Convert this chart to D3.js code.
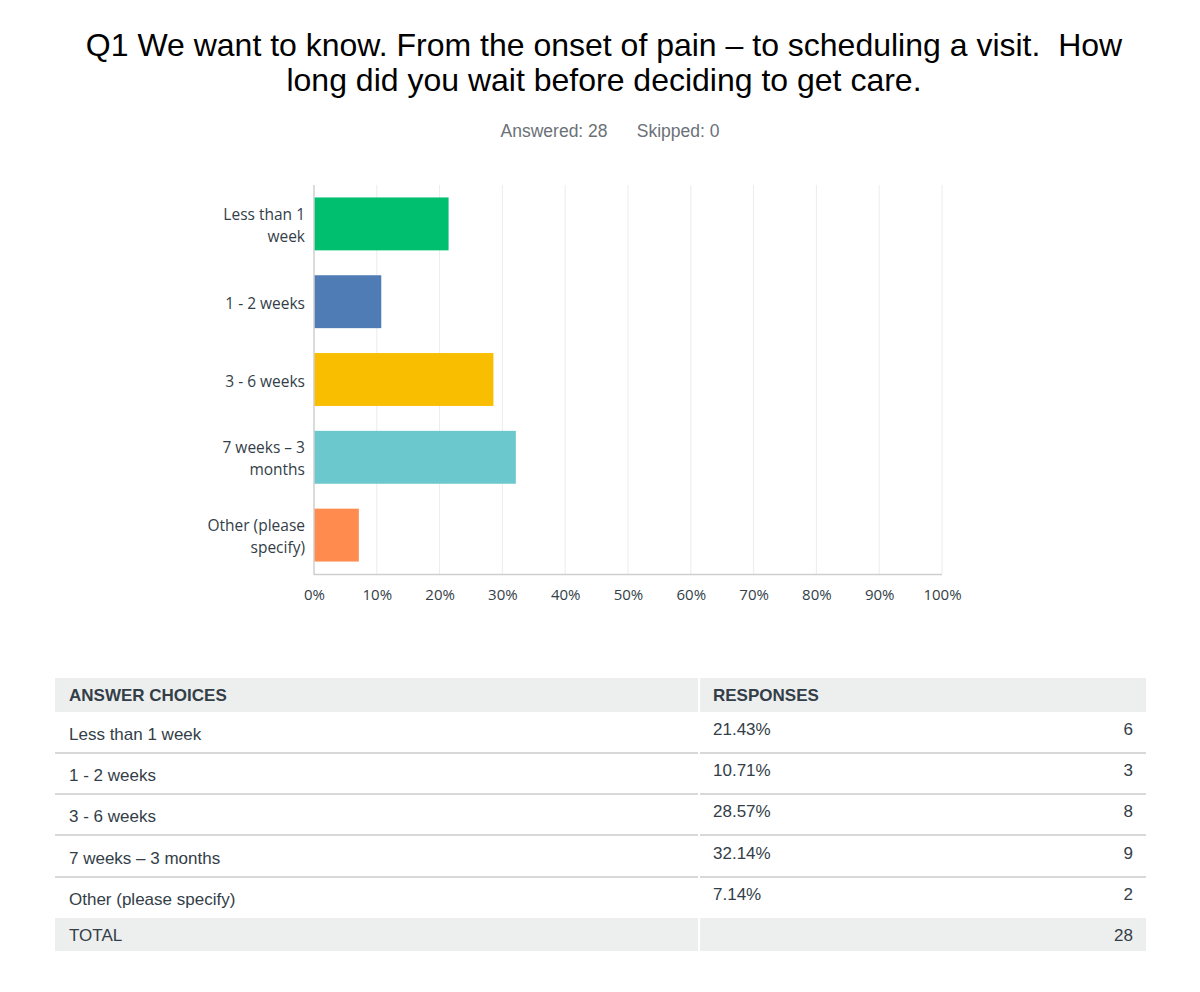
<!DOCTYPE html>
<html>
<head>
<meta charset="utf-8">
<script src="https://cdn.jsdelivr.net/npm/d3@7"></script>
<style>
  body { margin: 0; background: #fff; }
  svg text { white-space: pre; }
</style>
</head>
<body>
<div id="chart"></div>
<script>
var categories = ["Less than 1 week", "1 - 2 weeks", "3 - 6 weeks", "7 weeks \u2013 3 months", "Other (please specify)"];
var axisLabels = [["Less than 1", "week"], ["1 - 2 weeks"], ["3 - 6 weeks"], ["7 weeks \u2013 3", "months"], ["Other (please", "specify)"]];
var percents = [21.43, 10.71, 28.57, 32.14, 7.14];
var counts = [6, 3, 8, 9, 2];
var total = 28;
var skipped = 0;
var colors = ["#00bf6f", "#507cb6", "#f9be00", "#6bc8cd", "#ff8b4f"];
var tickValues = [0, 10, 20, 30, 40, 50, 60, 70, 80, 90, 100];

var width = 1200, height = 992;

var svg = d3.select('#chart')
  .append('svg')
  .attr('width', width)
  .attr('height', height);

// title
var title = svg.append('text')
  .attr('text-anchor', 'middle')
  .attr('font-family', 'Liberation Sans, Arial, sans-serif')
  .attr('font-size', 32)
  .attr('fill', '#000');
title.append('tspan').attr('x', 604).attr('y', 56)
  .text("Q1 We want to know. From the onset of pain \u2013 to scheduling a visit.  How");
title.append('tspan').attr('x', 604).attr('y', 91)
  .text("long did you wait before deciding to get care.");

svg.append('text')
  .attr('x', 610).attr('y', 137)
  .attr('text-anchor', 'middle')
  .attr('font-family', 'Liberation Sans, Arial, sans-serif')
  .attr('font-size', 17.5)
  .attr('fill', '#6b7178')
  .text("Answered: " + total + "      Skipped: " + skipped);

// chart
var x = d3.scaleLinear().domain([0, 100]).range([314, 942]);
var y = d3.scaleBand().domain(categories).range([185, 574]).paddingInner(0.32).paddingOuter(0.16);

var g = svg.append('g');

g.selectAll('line.grid')
  .data(tickValues.slice(1))
  .enter()
  .append('line')
  .attr('class', 'grid')
  .attr('x1', function(d) { return x(d); })
  .attr('x2', function(d) { return x(d); })
  .attr('y1', 185)
  .attr('y2', 574)
  .attr('stroke', '#ececec')
  .attr('stroke-width', 1);

g.selectAll('rect.bar')
  .data(categories)
  .enter()
  .append('rect')
  .attr('class', 'bar')
  .attr('x', x(0))
  .attr('y', function(d) { return y(d); })
  .attr('width', function(d, i) { return x(percents[i]) - x(0); })
  .attr('height', y.bandwidth())
  .attr('fill', function(d, i) { return colors[i]; });

// axis lines
g.append('line').attr('x1', 314).attr('x2', 314).attr('y1', 185).attr('y2', 575)
  .attr('stroke', '#cfcfcf').attr('stroke-width', 1.5);
g.append('line').attr('x1', 314).attr('x2', 942).attr('y1', 574.5).attr('y2', 574.5)
  .attr('stroke', '#cfcfcf').attr('stroke-width', 1.5);

var xAxis = d3.axisBottom(x)
  .tickValues(tickValues)
  .tickSize(0)
  .tickPadding(15)
  .tickFormat(function(d) { return d + "%"; });

var xa = svg.append('g')
  .attr('transform', 'translate(0,574)')
  .call(xAxis);
xa.select('.domain').remove();
xa.selectAll('text')
  .attr('font-family', 'Open Sans, sans-serif')
  .attr('font-size', 15)
  .attr('fill', '#333e48');

var labels = svg.append('g')
  .attr('font-family', 'Open Sans, sans-serif')
  .attr('font-size', 15.5)
  .attr('fill', '#333e48')
  .attr('text-anchor', 'end');

labels.selectAll('text')
  .data(categories)
  .enter()
  .append('text')
  .each(function(d, i) {
    var lines = axisLabels[i];
    var cy = y(d) + y.bandwidth() / 2;
    var t = d3.select(this);
    lines.forEach(function(l, j) {
      t.append('tspan')
        .attr('x', 305)
        .attr('y', cy + (j - (lines.length - 1) / 2) * 22 + 7)
        .text(l);
    });
  });

// table
var tLeft = 55, tRight = 1146, tMid = 699;
var headTop = 678, headH = 34;
var rowTops = [712, 753, 794, 836, 877];
var rowH = 41;
var totalTop = 918, totalH = 33;

var tbl = svg.append('g')
  .attr('font-family', 'Liberation Sans, Arial, sans-serif')
  .attr('fill', '#333e48');

tbl.append('rect').attr('x', tLeft).attr('y', headTop).attr('width', tMid - tLeft - 1).attr('height', headH).attr('fill', '#edeeee');
tbl.append('rect').attr('x', tMid + 1).attr('y', headTop).attr('width', tRight - tMid - 1).attr('height', headH).attr('fill', '#edeeee');
tbl.append('text').attr('x', 69).attr('y', headTop + 23).attr('font-size', 17).attr('font-weight', 'bold').attr('fill', '#333e48').text("ANSWER CHOICES");
tbl.append('text').attr('x', 713).attr('y', headTop + 23).attr('font-size', 17).attr('font-weight', 'bold').attr('fill', '#333e48').text("RESPONSES");

var rows = tbl.selectAll('g.row')
  .data(categories)
  .enter()
  .append('g')
  .attr('class', 'row')
  .attr('transform', function(d, i) { return 'translate(0,' + rowTops[i] + ')'; });

rows.append('text').attr('x', 69).attr('y', 28).attr('font-size', 17).attr('fill', '#333e48')
  .text(function(d) { return d; });
rows.append('text').attr('x', 713).attr('y', 23).attr('font-size', 17).attr('fill', '#333e48')
  .text(function(d, i) { return percents[i].toFixed(2) + "%"; });
rows.append('text').attr('x', 1133).attr('y', 23).attr('font-size', 17).attr('fill', '#333e48')
  .attr('text-anchor', 'end')
  .text(function(d, i) { return counts[i]; });

rows.filter(function(d, i) { return i < categories.length - 1; })
  .each(function() {
    var r = d3.select(this);
    r.append('rect').attr('x', tLeft).attr('y', rowH - 1).attr('width', tMid - tLeft - 1).attr('height', 2).attr('fill', '#d7d8d9');
    r.append('rect').attr('x', tMid + 1).attr('y', rowH - 1).attr('width', tRight - tMid - 1).attr('height', 2).attr('fill', '#d7d8d9');
  });

tbl.append('rect').attr('x', tLeft).attr('y', totalTop).attr('width', tMid - tLeft - 1).attr('height', totalH).attr('fill', '#edeeee');
tbl.append('rect').attr('x', tMid + 1).attr('y', totalTop).attr('width', tRight - tMid - 1).attr('height', totalH).attr('fill', '#edeeee');
tbl.append('text').attr('x', 69).attr('y', totalTop + 23).attr('font-size', 17).attr('fill', '#333e48').text("TOTAL");
tbl.append('text').attr('x', 1133).attr('y', totalTop + 23).attr('font-size', 17).attr('fill', '#333e48').attr('text-anchor', 'end').text(total);
</script>
</body>
</html>
